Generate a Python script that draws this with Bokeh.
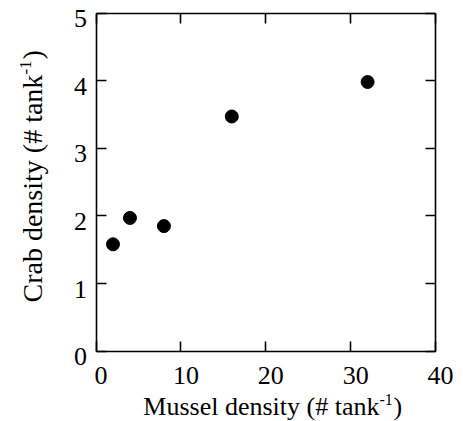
import math
from bokeh.plotting import figure
from bokeh.models import (Range1d, FixedTicker, LinearAxis, LabelSet,
                          ColumnDataSource)
from bokeh.core.properties import value
from bokeh.embed import file_html
from bokeh.resources import INLINE

# ---- data ----
mussel_density = [2, 4, 8, 16, 32]
crab_density = [1.58, 1.97, 1.85, 3.47, 3.98]

x_ticks = [0, 10, 20, 30, 40]
y_ticks = [0, 1, 2, 3, 4, 5]
x_tick_labels = ["0", "10", "20", "30", "40"]
y_tick_labels = ["0", "1", "2", "3", "4", "5"]

x_title_main = "Mussel density (# tank"
y_title_main = "Crab density (# tank"
title_sup = "-1"
title_close = ")"

FONT = "Liberation Serif"

# ---- layout in canvas pixels ----
W, H = 463, 421
LEFT, RIGHT, TOP, BOTTOM = 95.5, 435.0, 12.5, 350.7   # data box edges
X0, X1, Y0, Y1 = 0, 40, 0, 5
kx = (RIGHT - LEFT) / (X1 - X0)
ky = (BOTTOM - TOP) / (Y1 - Y0)
x_range = Range1d(X0 - LEFT / kx, X1 + (W - RIGHT) / kx)
y_range = Range1d(Y0 - (H - BOTTOM) / ky, Y1 + TOP / ky)

p = figure(width=W, height=H, x_range=x_range, y_range=y_range,
           x_axis_type=None, y_axis_type=None,
           output_backend="svg", toolbar_location=None,
           min_border=0, min_border_left=0, min_border_right=0,
           min_border_top=0, min_border_bottom=0,
           background_fill_color="white", border_fill_color="white")
p.grid.visible = False
p.outline_line_color = None

for loc, ticks, fixed, bounds in (("below", x_ticks, Y0, (X0, X1)),
                                  ("above", x_ticks, Y1, (X0, X1)),
                                  ("left", y_ticks, X0, (Y0, Y1)),
                                  ("right", y_ticks, X1, (Y0, Y1))):
    ax = LinearAxis(ticker=FixedTicker(ticks=ticks), fixed_location=fixed,
                    bounds=bounds)
    ax.axis_line_color = "black"
    ax.axis_line_width = 1.6
    ax.major_tick_in = 10
    ax.major_tick_out = 0
    ax.major_tick_line_width = 1.6
    ax.major_tick_line_color = "black"
    ax.minor_tick_line_color = None
    ax.major_label_text_color = None
    p.add_layout(ax, loc)

p.scatter(mussel_density, crab_density, size=13, marker="circle",
          fill_color="black", line_color="black")


def add_text(xs, ys, texts, dx, dy, align, size, angle=0.0):
    src = ColumnDataSource(dict(x=xs, y=ys, t=texts))
    p.add_layout(LabelSet(x="x", y="y", text="t", source=src,
                          x_offset=dx, y_offset=dy, angle=angle,
                          text_align=align, text_baseline="alphabetic",
                          text_font=value(FONT), text_font_size=value(size),
                          text_color="black"))


# tick labels
add_text(x_ticks, [Y0] * len(x_ticks), x_tick_labels, 5, -32.3, "center", "26px")
add_text([X0] * len(y_ticks), y_ticks, y_tick_labels, -9, -14, "right", "26px")

# x axis title with superscript
XT_BASE = -64.0
add_text([X0], [Y0], [x_title_main], 283.5, XT_BASE, "right", "26px")
add_text([X0], [Y0], [title_sup], 283.5, XT_BASE + 10, "left", "16px")
add_text([X0], [Y0], [title_close], 297.5, XT_BASE, "left", "26px")

# y axis title with superscript (rotated), anchored at the box's lower-left corner
YT_X = -54.0
add_text([X0], [Y0], [y_title_main], YT_X, 48.7, "left", "28px", math.pi / 2)
add_text([X0], [Y0], [title_sup], YT_X - 11, 276.6, "left", "17px", math.pi / 2)
add_text([X0], [Y0], [title_close], YT_X, 291.7, "left", "28px", math.pi / 2)

open("out.html", "w").write(file_html(p, INLINE))
